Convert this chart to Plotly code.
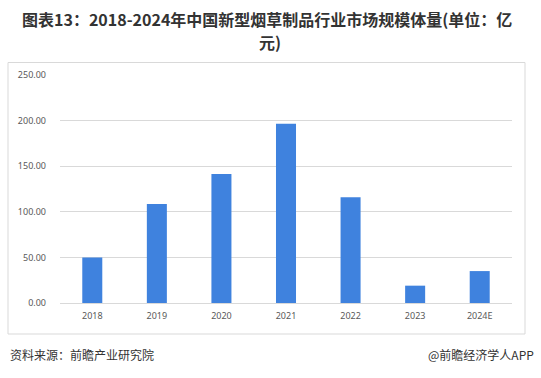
import plotly.graph_objects as go

categories = ["2018", "2019", "2020", "2021", "2022", "2023", "2024E"]
values = [50, 108.5, 141.5, 196.5, 116, 19, 35]
y_ticks = [0, 50, 100, 150, 200, 250]
y_tick_labels = ["0.00", "50.00", "100.00", "150.00", "200.00", "250.00"]

W, H = 541, 378
L, R, T, B = 60, 29, 75, 75

fig = go.Figure(go.Bar(x=categories, y=values, marker_color="#3f82de", marker_line_width=0,
                       hoverinfo="skip"))

def px_x(x):
    return (x - L) / (W - L - R)

def px_y(y):
    return (H - B - y) / (H - T - B)

fig.add_shape(type="rect", xref="paper", yref="paper",
              x0=px_x(8), x1=px_x(525), y0=px_y(62.5), y1=px_y(334),
              line=dict(color="#d9d9d9", width=1), fillcolor="rgba(0,0,0,0)", layer="below")

title_font = dict(size=16, color="#333333", family="Noto Sans CJK SC")
fig.add_annotation(text="<b>图表13：2018-2024年中国新型烟草制品行业市场规模体量(单位：亿</b>",
                   xref="paper", yref="paper", x=px_x(267), y=px_y(19.5), xanchor="center", yanchor="middle",
                   showarrow=False, font=title_font)
fig.add_annotation(text="<b>元)</b>",
                   xref="paper", yref="paper", x=px_x(270), y=px_y(42), xanchor="center", yanchor="middle",
                   showarrow=False, font=title_font)
fig.add_annotation(text="资料来源：前瞻产业研究院", xref="paper", yref="paper",
                   x=px_x(8), y=px_y(354), xanchor="left", yanchor="middle", showarrow=False,
                   font=dict(size=12, color="#333333", family="Noto Sans CJK SC"))
fig.add_annotation(text="@前瞻经济学人APP", xref="paper", yref="paper",
                   x=px_x(536), y=px_y(354), xanchor="right", yanchor="middle", showarrow=False,
                   font=dict(size=12, color="#333333", family="Noto Sans CJK SC"))

fig.update_layout(
    width=W, height=H,
    margin=dict(l=L, r=R, t=T, b=B),
    paper_bgcolor="white", plot_bgcolor="white",
    bargap=0.69,
    showlegend=False,
    font=dict(family="Noto Sans, Arial, sans-serif", color="#595959", size=9),
    xaxis=dict(type="category", showgrid=False, showline=True, linecolor="#d9d9d9",
               ticks="", tickfont=dict(size=9, color="#595959"), ticklabelstandoff=4),
    yaxis=dict(range=[0, 250], tickvals=y_ticks, ticktext=y_tick_labels, showgrid=True,
               gridcolor="#d9d9d9", gridwidth=1, zeroline=False, showline=False, ticks="",
               tickfont=dict(size=9, color="#595959"), ticklabelstandoff=13),
)

fig.write_html("out.html", config={"displayModeBar": False},
               post_script="document.body.style.margin='0';document.body.style.overflow='hidden';")
